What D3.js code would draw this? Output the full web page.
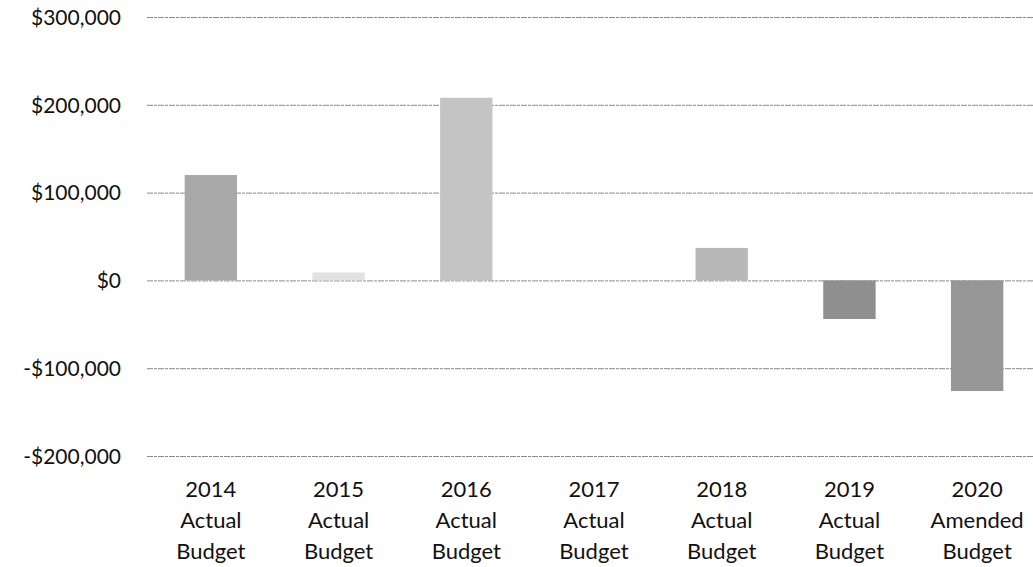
<!DOCTYPE html>
<html>
<head>
<meta charset="utf-8">
<script src="https://cdn.jsdelivr.net/npm/d3@7"></script>
<style>
  body { margin: 0; background: #fff; }
  svg { display: block; }
  svg text { font-family: "Lato", "Open Sans", sans-serif; }
</style>
</head>
<body>
<div id="chart"></div>
<script>
// datos
const years = ["2014", "2015", "2016", "2017", "2018", "2019", "2020"];
const kinds = ["Actual", "Actual", "Actual", "Actual", "Actual", "Actual", "Amended"];
const values = [120000, 9000, 208000, 0, 37000, -44000, -126000];
const yTicks = [300000, 200000, 100000, 0, -100000, -200000];

const W = 1033, H = 567;

const svg = d3.select("#chart").append("svg")
  .attr("width", W).attr("height", H);

const y = d3.scaleLinear()
  .domain([-200000, 300000])
  .range([456, 17]);

const x = d3.scaleBand()
  .domain(years)
  .range([147, 1041])
  .paddingInner(0.59)
  .paddingOuter(0.295);

const fill = d3.scaleOrdinal()
  .domain(years)
  .range(["#a8a8a8", "#e2e2e2", "#c4c4c4", "#ffffff", "#b8b8b8", "#8f8f8f", "#969696"]);

const fmt = v => (v < 0 ? "-$" : "$") + d3.format(",")(Math.abs(v));

// Lineas de grilla
const yAxis = svg.append("g")
  .attr("transform", "translate(147,0)")
  .call(d3.axisLeft(y).tickValues(yTicks).tickFormat(fmt).tickSize(-(W - 147)).tickPadding(26));

yAxis.attr("font-family", null);
yAxis.select(".domain").remove();
yAxis.selectAll(".tick line")
  .attr("stroke", "#8a8a8a")
  .attr("stroke-width", 1)
  .attr("stroke-dasharray", "6,1,3,1");
yAxis.selectAll(".tick text")
  .attr("font-size", 21)
  .attr("fill", "#111")
  .attr("dy", "0.35em");

// Barras
svg.selectAll("rect.bar")
  .data(years.map((yr, i) => ({ yr, v: values[i] })))
  .enter().append("rect")
  .attr("class", "bar")
  .attr("x", d => x(d.yr))
  .attr("width", x.bandwidth())
  .attr("y", d => y(Math.max(0, d.v)))
  .attr("height", d => Math.abs(y(d.v) - y(0)))
  .attr("fill", d => fill(d.yr));

// Etiquetas del eje x
const lab = svg.append("g").selectAll("text")
  .data(years.map((yr, i) => ({ yr, k: kinds[i] })))
  .enter().append("text")
  .attr("text-anchor", "middle")
  .attr("font-size", 22)
  .attr("fill", "#111");

const cx = d => x(d.yr) + x.bandwidth() / 2;
lab.append("tspan").attr("x", cx).attr("y", 497).text(d => d.yr);
lab.append("tspan").attr("x", cx).attr("y", 528).text(d => d.k);
lab.append("tspan").attr("x", cx).attr("y", 559).text("Budget");
</script>
</body>
</html>
